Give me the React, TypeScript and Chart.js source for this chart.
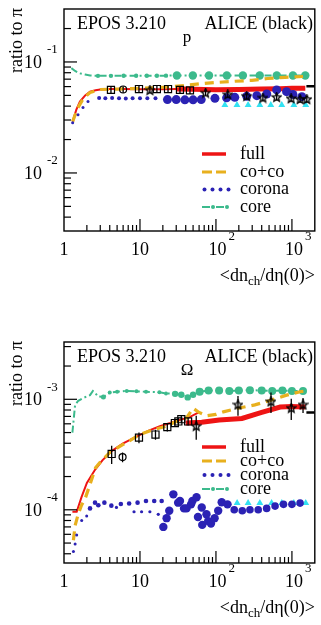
import React, { useEffect, useRef } from "react";
import { Chart, registerables } from "chart.js";
Chart.register(...registerables);

const FONT = '"Liberation Serif", "DejaVu Serif", serif';
const X_MIN = 1;
const X_MAX = 2000;

const RED = "#ee1414";
const ORANGE = "#e8b01e";
const GREEN = "#3cba8c";
const BLUE = "#2b22b4";
const CYAN = "#33e2f2";

// ---------------- panel 1 : p / pi ----------------
const pCoreX = [1.25, 1.4, 1.6, 1.9, 2.2, 2.8, 4.15, 6.1, 8.9, 12.3, 16.7, 22, 30.6, 49.6, 81, 139, 226, 377, 632, 1030, 1500];
const pCoreY = [0.088, 0.083, 0.079, 0.077, 0.0755, 0.075, 0.075, 0.0752, 0.0752, 0.0752, 0.0752, 0.0753, 0.0755, 0.0755, 0.0755, 0.0755, 0.0755, 0.0755, 0.0755, 0.0755, 0.0755];
const pCocoX = [1.3, 1.5, 1.8, 2.2, 3, 5, 8, 13.5, 22.5, 39, 61, 106, 177, 297, 480, 810, 1400];
const pCocoY = [0.029, 0.038, 0.047, 0.053, 0.0565, 0.057, 0.0575, 0.0583, 0.0595, 0.0615, 0.0635, 0.0655, 0.067, 0.0683, 0.071, 0.0727, 0.074];
const pFullThinX = [1.3, 1.45, 1.62, 1.9, 2.2, 2.6, 3, 4, 6, 10, 20, 30, 45];
const pFullThinY = [0.029, 0.037, 0.044, 0.05, 0.054, 0.0555, 0.0565, 0.057, 0.057, 0.0567, 0.0567, 0.057, 0.057];
const pFullThickX = [30, 50, 100, 200, 400, 700, 1000, 1500];
const pFullThickY = [0.057, 0.0567, 0.0563, 0.0565, 0.057, 0.0575, 0.058, 0.058];
const pCoronaX = [1.3, 1.53, 1.78, 2.07, 2.9, 3.5, 4.3, 5.3, 6.5, 8, 10, 12.5, 16, 23, 30, 39, 50, 64, 97, 138, 177, 254, 345, 466, 630, 850, 1030, 1350];
const pCoronaY = [0.0284, 0.0335, 0.0388, 0.044, 0.0473, 0.047, 0.0473, 0.047, 0.0468, 0.047, 0.047, 0.0472, 0.047, 0.0458, 0.0458, 0.0456, 0.0456, 0.0458, 0.047, 0.0475, 0.048, 0.049, 0.0497, 0.0515, 0.056, 0.054, 0.051, 0.0487];
const pCyanX = [131, 189, 265, 378, 527, 735, 1060, 1520];
const pCyanY = [0.041, 0.041, 0.041, 0.041, 0.041, 0.041, 0.041, 0.041];
const pSqX = [4.15, 9.7, 16.7, 23.4, 33.6, 45.5];
const pSqY = [0.056, 0.057, 0.057, 0.057, 0.056, 0.0555];
const pSqErr = [0.004, 0.004, 0.004, 0.004, 0.004, 0.004];
const pCircX = [6.0];
const pCircY = [0.0565];
const pCircErr = [0.004];
const pStarX = [13.5, 73, 143, 254, 415, 630, 975, 1280, 1570];
const pStarY = [0.0555, 0.0525, 0.0507, 0.049, 0.0473, 0.048, 0.0467, 0.046, 0.046];
const pStarErr = [0.003, 0.003, 0.003, 0.003, 0.003, 0.003, 0.003, 0.003, 0.003];
const pBarX = [1550, 2000];
const pBarY = [0.0603, 0.0603];

// ---------------- panel 2 : Omega / pi ----------------
const oCoreX = [1.29, 1.4, 1.54, 1.8, 2.2, 2.4, 2.6, 2.8, 3.3, 4.0, 5, 6.7, 9, 12, 18, 22, 29, 35, 42.5, 50, 61, 80, 110, 150, 200, 280, 400, 550, 750, 1000, 1400];
const oCoreY = [5.0e-4, 8.9e-4, 9.7e-4, 1.03e-3, 1.09e-3, 1.19e-3, 1.13e-3, 1.06e-3, 1.05e-3, 1.15e-3, 1.17e-3, 1.19e-3, 1.18e-3, 1.17e-3, 1.16e-3, 1.13e-3, 1.12e-3, 1.1e-3, 1.04e-3, 1.1e-3, 1.17e-3, 1.2e-3, 1.2e-3, 1.19e-3, 1.2e-3, 1.21e-3, 1.2e-3, 1.19e-3, 1.2e-3, 1.19e-3, 1.19e-3];
const oCocoX = [1.33, 1.4, 1.53, 1.7, 1.89, 2.2, 2.6, 3, 4, 6, 10, 15, 22, 30, 41, 50, 60, 75, 100, 125, 195, 325, 540, 850, 1280, 1500];
const oCocoY = [5.3e-5, 7.2e-5, 9e-5, 1.1e-4, 1.25e-4, 1.7e-4, 2.4e-4, 2.7e-4, 3.3e-4, 3.9e-4, 4.8e-4, 5.3e-4, 5.7e-4, 6.3e-4, 6.8e-4, 8.3e-4, 7.6e-4, 7.1e-4, 7.3e-4, 7.7e-4, 8.3e-4, 8.9e-4, 9.85e-4, 1.09e-3, 1.17e-3, 1.19e-3];
const oFullThinX = [1.29, 1.47, 1.7, 2.0, 2.56, 3.2, 4.24, 6, 9, 13, 18.3, 25, 30.4, 45, 61];
const oFullThinY = [9.6e-5, 9.6e-5, 1.3e-4, 1.75e-4, 2.3e-4, 2.8e-4, 3.4e-4, 4.0e-4, 4.6e-4, 5.2e-4, 5.7e-4, 6.1e-4, 6.4e-4, 6.9e-4, 7.7e-4];
const oFullThickX = [40, 65, 110, 220, 400, 700, 1000, 1500];
const oFullThickY = [6.1e-4, 6.2e-4, 6.5e-4, 6.7e-4, 7.6e-4, 8.5e-4, 8.6e-4, 8.5e-4];
const oCoronaX = [1.33, 1.4, 1.47, 1.71, 1.99, 2.2, 2.56, 2.83, 3.4, 4.2, 5.6, 7.2, 9.3, 12, 15.4, 19.3, 20.3, 22.4, 24.3, 27.5, 31.8, 33.6, 38, 41, 47, 49, 55.5, 58, 65, 66, 75, 79, 86, 96, 107, 119, 142, 174, 222, 280, 360, 465, 600, 775, 1000, 1280];
const oCoronaY = [4.2e-5, 4.9e-5, 5.9e-5, 8.0e-5, 8.8e-5, 1.03e-4, 1.16e-4, 1.1e-4, 1.16e-4, 1.09e-4, 1.13e-4, 1.14e-4, 1.16e-4, 1.2e-4, 1.2e-4, 1.2e-4, 7.0e-5, 8.4e-5, 9.8e-5, 1.38e-4, 1.16e-4, 1.2e-4, 1.03e-4, 1.03e-4, 1.12e-4, 1.2e-4, 1.3e-4, 8.6e-5, 1.05e-4, 7.3e-5, 9.1e-5, 7.9e-5, 7.5e-5, 8.4e-5, 9.8e-5, 1.17e-4, 1.12e-4, 1.0e-4, 9.8e-5, 1.0e-4, 1.0e-4, 1.03e-4, 1.08e-4, 1.12e-4, 1.12e-4, 1.15e-4];
const oCoronaLowX = [4.9, 8.35, 10.5, 13.5, 17.4];
const oCoronaLowY = [1.05e-4, 9.6e-5, 9.6e-5, 9.6e-5, 9.1e-5];
const oCyanX = [190, 265, 378, 540, 735, 1060, 1520];
const oCyanY = [1.15e-4, 1.15e-4, 1.15e-4, 1.15e-4, 1.15e-4, 1.15e-4, 1.15e-4];
const oSqX = [4.24, 9.7, 16, 22.9, 28.8, 32, 35, 43];
const oSqY = [3.2e-4, 4.5e-4, 4.8e-4, 5.6e-4, 6.1e-4, 6.3e-4, 6.6e-4, 6.3e-4];
const oSqErr = [0.6e-4, 0.5e-4, 0.5e-4, 0.5e-4, 0.5e-4, 0.5e-4, 0.5e-4, 0.5e-4];
const oCircX = [5.9];
const oCircY = [3.0e-4];
const oCircErr = [0.3e-4];
const oStarX = [55, 195, 530, 980, 1400];
const oStarY = [5.7e-4, 8.9e-4, 9.5e-4, 8.3e-4, 8.9e-4];
const oStarErr = [1.4e-4, 1.8e-4, 2.0e-4, 1.8e-4, 1.4e-4];
const oBarX = [1550, 2000];
const oBarY = [7.6e-4, 7.6e-4];

const LEGEND_LABELS = ["full", "co+co", "corona", "core"];

const pts = (xs: number[], ys: number[]) => xs.map((x, i) => ({ x, y: ys[i] }));

function makeStar(size: number) {
  const c = document.createElement("canvas");
  c.width = size;
  c.height = size;
  const g = c.getContext("2d")!;
  const cx = size / 2, cy = size / 2, R = size / 2 - 0.8, r = R * 0.45;
  g.beginPath();
  for (let i = 0; i < 10; i++) {
    const ang = -Math.PI / 2 + (i * Math.PI) / 5;
    const rr = i % 2 ? r : R;
    g.lineTo(cx + rr * Math.cos(ang), cy + rr * Math.sin(ang));
  }
  g.closePath();
  g.strokeStyle = "#000";
  g.lineWidth = 1.3;
  g.stroke();
  return c;
}

type Spec = {
  key: string;
  particle: string;
  yMin: number;
  yMax: number;
  yExps: number[];
  padTop: number;
  padBottom: number;
  height: number;
  legendRows: number[];
  coreX: number[]; coreY: number[];
  cocoX: number[]; cocoY: number[];
  fullThinX: number[]; fullThinY: number[];
  fullThickX: number[]; fullThickY: number[];
  coronaX: number[]; coronaY: number[];
  coronaLowX?: number[]; coronaLowY?: number[];
  cyanX: number[]; cyanY: number[];
  sqX: number[]; sqY: number[]; sqErr: number[];
  circX: number[]; circY: number[]; circErr: number[];
  starX: number[]; starY: number[]; starErr: number[];
  barX: number[]; barY: number[];
  coronaR: (x: number) => number;
  coreR: (x: number) => number;
};

function drawSup(ctx: CanvasRenderingContext2D, base: string, sup: string, cx: number, cy: number, center: boolean) {
  ctx.font = `18px ${FONT}`;
  ctx.textBaseline = "middle";
  const w = ctx.measureText(base).width;
  let left: number;
  if (center) left = cx - w / 2;
  else left = cx - w;
  ctx.textAlign = "left";
  ctx.fillText(base, left, cy);
  ctx.font = `13px ${FONT}`;
  ctx.fillText(sup, left + w + (center ? 2 : 5), cy - 13);
}

function decor(spec: Spec) {
  return {
    id: "decor_" + spec.key,
    afterDatasetsDraw(chart: any) {
      const { ctx, chartArea: a, scales } = chart;
      const xs = scales.x, ys = scales.y;
      ctx.save();
      ctx.beginPath();
      ctx.rect(a.left, a.top, a.right - a.left, a.bottom - a.top);
      ctx.clip();
      ctx.strokeStyle = "#000";
      ctx.lineWidth = 1.3;
      chart.data.datasets.forEach((ds: any) => {
        if (!ds.yErr) return;
        ds.data.forEach((p: any, i: number) => {
          const e = ds.yErr[i];
          const px = xs.getPixelForValue(p.x);
          const lo = Math.max(p.y - e, ys.min);
          ctx.beginPath();
          ctx.moveTo(px, ys.getPixelForValue(lo));
          ctx.lineTo(px, ys.getPixelForValue(p.y + e));
          ctx.stroke();
        });
      });
      ctx.restore();
    },
    afterDraw(chart: any) {
      const { ctx, chartArea: a, scales } = chart;
      const xs = scales.x, ys = scales.y;
      ctx.save();
      ctx.fillStyle = "#000";
      ctx.strokeStyle = "#000";
      ctx.lineWidth = 1.4;
      ctx.strokeRect(a.left, a.top, a.right - a.left, a.bottom - a.top);
      // x ticks (inside)
      ctx.lineWidth = 1.2;
      for (let e = 0; e <= 3; e++) {
        for (let m = 1; m <= 9; m++) {
          const v = m * Math.pow(10, e);
          if (v <= X_MIN || v >= X_MAX) continue;
          const px = xs.getPixelForValue(v);
          const len = m === 1 ? 12 : 6;
          ctx.beginPath();
          ctx.moveTo(px, a.bottom);
          ctx.lineTo(px, a.bottom - len);
          ctx.stroke();
        }
      }
      // y ticks (inside)
      for (let e = -6; e <= 0; e++) {
        for (let m = 1; m <= 9; m++) {
          const v = m * Math.pow(10, e);
          if (v <= ys.min || v >= ys.max) continue;
          const py = ys.getPixelForValue(v);
          const len = m === 1 ? 13 : 7;
          ctx.beginPath();
          ctx.moveTo(a.left, py);
          ctx.lineTo(a.left + len, py);
          ctx.stroke();
        }
      }
      // y tick labels
      spec.yExps.forEach((e) => {
        const py = ys.getPixelForValue(Math.pow(10, e));
        drawSup(ctx, "10", String(e), a.left - 22, py + 1, false);
      });
      // x tick labels
      const ly = a.bottom + 19;
      ctx.font = `18px ${FONT}`;
      ctx.textAlign = "center";
      ctx.textBaseline = "middle";
      ctx.fillText("1", xs.getPixelForValue(1), ly);
      ctx.fillText("10", xs.getPixelForValue(10), ly);
      drawSup(ctx, "10", "2", xs.getPixelForValue(100) + 1.5, ly, true);
      drawSup(ctx, "10", "3", xs.getPixelForValue(1000) + 2, ly, true);
      // x title
      const ty = a.bottom + 45;
      const p1 = "<dn", p2 = "ch", p3 = "/d\u03b7(0)>";
      ctx.textAlign = "left";
      ctx.font = `18px ${FONT}`;
      const w1 = ctx.measureText(p1).width;
      const w3 = ctx.measureText(p3).width;
      ctx.font = `13px ${FONT}`;
      const w2 = ctx.measureText(p2).width;
      let tx = a.right - (w1 + w2 + w3);
      ctx.font = `18px ${FONT}`;
      ctx.fillText(p1, tx, ty);
      tx += w1;
      ctx.font = `13px ${FONT}`;
      ctx.fillText(p2, tx, ty + 6);
      tx += w2;
      ctx.font = `18px ${FONT}`;
      ctx.fillText(p3, tx, ty);
      // y title
      ctx.save();
      ctx.translate(22, a.top - 1);
      ctx.rotate(-Math.PI / 2);
      ctx.textAlign = "right";
      ctx.textBaseline = "alphabetic";
      ctx.font = `18px ${FONT}`;
      ctx.fillText("ratio to \u03c0", 0, 0);
      ctx.restore();
      // header texts
      ctx.textBaseline = "alphabetic";
      ctx.font = `18px ${FONT}`;
      ctx.textAlign = "left";
      ctx.fillText("EPOS 3.210", 77, a.top + 19.5);
      ctx.textAlign = "right";
      ctx.fillText("ALICE (black)", 313, a.top + 19.5);
      ctx.textAlign = "center";
      ctx.font = `17px ${FONT}`;
      ctx.fillText(spec.particle, 187, a.top + 33);
      // legend
      const [r0, r1, r2, r3] = spec.legendRows;
      ctx.lineCap = "butt";
      ctx.strokeStyle = RED;
      ctx.lineWidth = 3.5;
      ctx.beginPath();
      ctx.moveTo(202, r0);
      ctx.lineTo(226, r0);
      ctx.stroke();
      ctx.strokeStyle = ORANGE;
      ctx.lineWidth = 3;
      ctx.setLineDash([10, 4]);
      ctx.beginPath();
      ctx.moveTo(202, r1);
      ctx.lineTo(227, r1);
      ctx.stroke();
      ctx.setLineDash([]);
      ctx.fillStyle = BLUE;
      [204.5, 212.5, 220.5, 228.5].forEach((x) => {
        ctx.beginPath();
        ctx.arc(x, r2, 2, 0, Math.PI * 2);
        ctx.fill();
      });
      ctx.strokeStyle = GREEN;
      ctx.lineWidth = 2;
      ctx.setLineDash([8, 6]);
      ctx.beginPath();
      ctx.moveTo(202, r3);
      ctx.lineTo(230, r3);
      ctx.stroke();
      ctx.setLineDash([]);
      ctx.fillStyle = GREEN;
      [213, 227].forEach((x) => {
        ctx.beginPath();
        ctx.arc(x, r3, 2, 0, Math.PI * 2);
        ctx.fill();
      });
      ctx.fillStyle = "#000";
      ctx.font = `18px ${FONT}`;
      ctx.textAlign = "left";
      ctx.textBaseline = "middle";
      LEGEND_LABELS.forEach((t, i) => ctx.fillText(t, 240, spec.legendRows[i]));
      ctx.restore();
    },
  };
}

function buildConfig(spec: Spec, star: HTMLCanvasElement): any {
  const datasets: any[] = [
    { label: "ALICE stars", data: pts(spec.starX, spec.starY), yErr: spec.starErr, showLine: false, pointStyle: star, pointRadius: 5, borderColor: "#000", backgroundColor: "rgba(0,0,0,0)" },
    { label: "ALICE squares", data: pts(spec.sqX, spec.sqY), yErr: spec.sqErr, showLine: false, pointStyle: "rect", pointRadius: 5, pointBorderWidth: 1.2, borderColor: "#000", backgroundColor: "rgba(0,0,0,0)" },
    { label: "ALICE circles", data: pts(spec.circX, spec.circY), yErr: spec.circErr, showLine: false, pointStyle: "circle", pointRadius: 3.5, pointBorderWidth: 1.2, borderColor: "#000", backgroundColor: "rgba(0,0,0,0)" },
    { label: "ALICE PbPb", data: pts(spec.barX, spec.barY), borderColor: "#000", borderWidth: 2.5, pointRadius: 0 },
    { label: "corona", data: pts(spec.coronaX, spec.coronaY), showLine: false, pointStyle: "circle", pointRadius: (c: any) => spec.coronaR(c.raw.x), pointBorderWidth: 0, backgroundColor: BLUE, borderColor: BLUE },
  ];
  if (spec.coronaLowX && spec.coronaLowY) {
    datasets.push({ label: "corona low", data: pts(spec.coronaLowX, spec.coronaLowY), showLine: false, pointRadius: 1.6, pointBorderWidth: 0, backgroundColor: BLUE, borderColor: BLUE });
  }
  datasets.push(
    { label: "cyan", data: pts(spec.cyanX, spec.cyanY), showLine: false, pointStyle: "triangle", pointRadius: 4, pointBorderWidth: 0, backgroundColor: CYAN, borderColor: CYAN },
    { label: "co+co", data: pts(spec.cocoX, spec.cocoY), borderColor: ORANGE, borderWidth: 3.2, borderDash: [9, 6], pointRadius: 0 },
    { label: "full thick", data: pts(spec.fullThickX, spec.fullThickY), borderColor: RED, borderWidth: 5, pointRadius: 0 },
    { label: "full", data: pts(spec.fullThinX, spec.fullThinY), borderColor: RED, borderWidth: 2, pointRadius: 0 },
    { label: "core", data: pts(spec.coreX, spec.coreY), borderColor: GREEN, borderWidth: 2, borderDash: [7, 3, 2, 3], pointRadius: (c: any) => spec.coreR(c.raw.x), pointBorderWidth: 0, backgroundColor: GREEN },
  );
  return {
    type: "line",
    data: { datasets },
    options: {
      responsive: false,
      animation: false,
      devicePixelRatio: 1,
      events: [],
      layout: { padding: { left: 64, right: 6, top: spec.padTop, bottom: spec.padBottom } },
      scales: {
        x: { type: "logarithmic", min: X_MIN, max: X_MAX, display: false },
        y: { type: "logarithmic", min: spec.yMin, max: spec.yMax, display: false },
      },
      plugins: { legend: { display: false }, tooltip: { enabled: false } },
      elements: { line: { tension: 0 } },
    },
    plugins: [decor(spec)],
  };
}

const specP: Spec = {
  key: "p", particle: "p", yMin: 0.003, yMax: 0.3, yExps: [-1, -2], padTop: 9, padBottom: 79, height: 310,
  legendRows: [154, 172, 189.5, 207],
  coreX: pCoreX, coreY: pCoreY, cocoX: pCocoX, cocoY: pCocoY,
  fullThinX: pFullThinX, fullThinY: pFullThinY, fullThickX: pFullThickX, fullThickY: pFullThickY,
  coronaX: pCoronaX, coronaY: pCoronaY, cyanX: pCyanX, cyanY: pCyanY,
  sqX: pSqX, sqY: pSqY, sqErr: pSqErr, circX: pCircX, circY: pCircY, circErr: pCircErr,
  starX: pStarX, starY: pStarY, starErr: pStarErr, barX: pBarX, barY: pBarY,
  coronaR: (x) => (x < 2.5 ? 1.5 : x < 18 ? 2 : x < 22 ? 3 : 4.5),
  coreR: (x) => (x < 2.5 ? 0 : x < 25 ? 2.2 : 4.2),
};

const specO: Spec = {
  key: "o", particle: "\u03a9", yMin: 3.3e-5, yMax: 3.3e-3, yExps: [-3, -4], padTop: 32, padBottom: 62, height: 315,
  legendRows: [137, 151, 165, 179],
  coreX: oCoreX, coreY: oCoreY, cocoX: oCocoX, cocoY: oCocoY,
  fullThinX: oFullThinX, fullThinY: oFullThinY, fullThickX: oFullThickX, fullThickY: oFullThickY,
  coronaX: oCoronaX, coronaY: oCoronaY, coronaLowX: oCoronaLowX, coronaLowY: oCoronaLowY,
  cyanX: oCyanX, cyanY: oCyanY,
  sqX: oSqX, sqY: oSqY, sqErr: oSqErr, circX: oCircX, circY: oCircY, circErr: oCircErr,
  starX: oStarX, starY: oStarY, starErr: oStarErr, barX: oBarX, barY: oBarY,
  coronaR: (x) => (x < 2 ? 1.5 : x < 20 ? 2.3 : x < 150 ? 4.2 : 3.8),
  coreR: (x) => (x < 3 ? 0 : x < 4 ? 2.5 : x < 25 ? 2 : x < 55 ? 3.2 : 4),
};

export default function App() {
  const ref1 = useRef<HTMLCanvasElement>(null);
  const ref2 = useRef<HTMLCanvasElement>(null);
  useEffect(() => {
    const star = makeStar(11);
    const c1 = new Chart(ref1.current!, buildConfig(specP, star));
    const c2 = new Chart(ref2.current!, buildConfig(specO, star));
    return () => {
      c1.destroy();
      c2.destroy();
    };
  }, []);
  return (
    <div style={{ position: "absolute", left: 0, top: 0, width: 321, height: 625, background: "#fff" }}>
      <canvas ref={ref1} width={321} height={310} style={{ display: "block", width: 321, height: 310 }} />
      <canvas ref={ref2} width={321} height={315} style={{ display: "block", width: 321, height: 315 }} />
    </div>
  );
}
